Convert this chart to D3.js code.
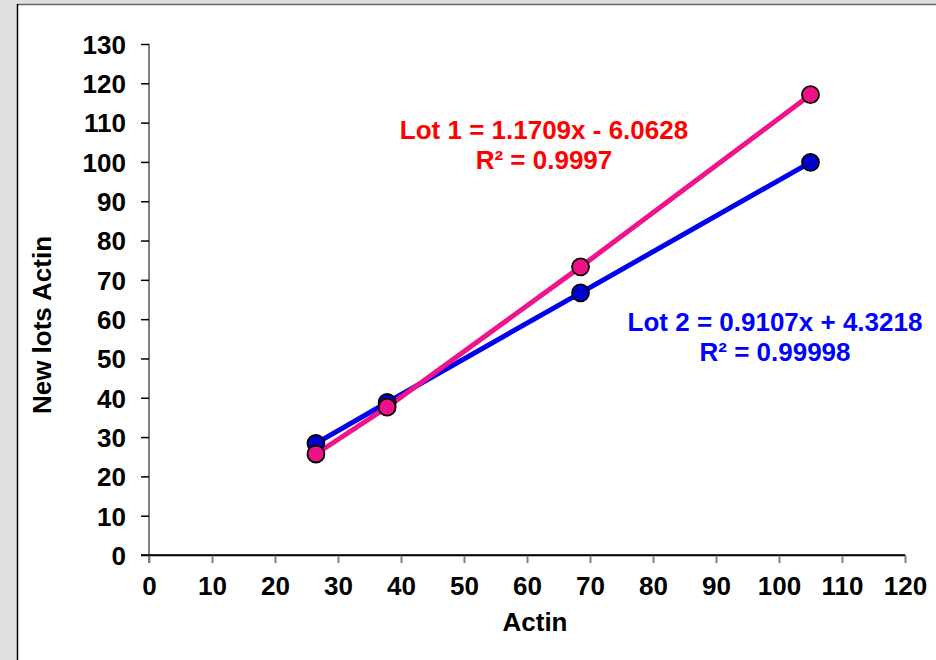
<!DOCTYPE html>
<html>
<head>
<meta charset="utf-8">
<script src="https://cdn.jsdelivr.net/npm/d3@7"></script>
<style>
  body { margin: 0; background: #e0e0e0; }
  svg text { font-family: "Liberation Sans", Arial, sans-serif; font-weight: bold; }
</style>
</head>
<body>
<div id="chart"></div>
<script>
// data
var actin = [26.5, 37.8, 68.5, 105];
var lot1 = [25.7, 37.6, 73.3, 117.1];
var lot2 = [28.4, 38.8, 66.7, 99.9];
var xTicks = [0, 10, 20, 30, 40, 50, 60, 70, 80, 90, 100, 110, 120];
var yTicks = [0, 10, 20, 30, 40, 50, 60, 70, 80, 90, 100, 110, 120, 130];
var lot1Label = ["Lot 1 = 1.1709x - 6.0628", "R² = 0.9997"];
var lot2Label = ["Lot 2 = 0.9107x + 4.3218", "R² = 0.99998"];

var svgWidth = 936;
var svgHeight = 660;
var fontSize = 26;

var svg = d3.select("#chart")
  .append("svg")
  .attr("width", svgWidth)
  .attr("height", svgHeight)
  .style("display", "block");

// gray page with white chart area
svg.append("rect")
  .attr("width", svgWidth).attr("height", svgHeight)
  .attr("fill", "#e0e0e0");
svg.append("rect")
  .attr("x", 17).attr("y", 4)
  .attr("width", svgWidth).attr("height", svgHeight)
  .attr("fill", "#ffffff");
svg.append("line")
  .attr("x1", 17).attr("x2", svgWidth).attr("y1", 4.5).attr("y2", 4.5)
  .attr("stroke", "#666").attr("stroke-width", 1.5);
svg.append("line")
  .attr("x1", 17.5).attr("x2", 17.5).attr("y1", 4).attr("y2", svgHeight)
  .attr("stroke", "#000").attr("stroke-width", 1.5);

var x = d3.scaleLinear().domain([0, 120]).range([149, 905]);
var y = d3.scaleLinear().domain([0, 130]).range([555, 44]);

// x axis
var xAxis = svg.append("g")
  .attr("transform", "translate(0,555)")
  .call(d3.axisBottom(x).tickValues(xTicks).tickSize(8).tickPadding(14).tickSizeOuter(0));
xAxis.select(".domain").attr("stroke", "#000").attr("stroke-width", 1.5);
xAxis.selectAll(".tick line").attr("stroke", "#808080").attr("stroke-width", 2);
xAxis.selectAll(".tick text").attr("font-size", fontSize).attr("fill", "#000");

// y axis
var yAxis = svg.append("g")
  .attr("transform", "translate(149,0)")
  .call(d3.axisLeft(y).tickValues(yTicks).tickSize(8).tickPadding(15).tickSizeOuter(0));
yAxis.select(".domain").attr("stroke", "#808080").attr("stroke-width", 2)
  .attr("d", "M0," + y(130) + "V563");
yAxis.selectAll(".tick line").attr("stroke", "#000").attr("stroke-width", 1.5);
yAxis.selectAll(".tick text").attr("font-size", fontSize).attr("fill", "#000").attr("dy", "0.36em");
// redraw x domain over y ticks
svg.append("line")
  .attr("x1", 141).attr("x2", 905).attr("y1", 555).attr("y2", 555)
  .attr("stroke", "#000").attr("stroke-width", 1.5);

// axis titles
svg.append("text")
  .attr("x", 535).attr("y", 631)
  .attr("text-anchor", "middle")
  .attr("font-size", fontSize)
  .text("Actin");
svg.append("text")
  .attr("transform", "translate(51,325) rotate(-90)")
  .attr("text-anchor", "middle")
  .attr("font-size", fontSize)
  .text("New lots Actin");

// series
var series = [
  { values: lot2, line: "#0000ee", fill: "#0000cc" },
  { values: lot1, line: "#f0148c", fill: "#ee1188" }
];
var lineGen = d3.line()
  .x(function(d, i) { return x(actin[i]); })
  .y(function(d) { return y(d); });

series.forEach(function(s) {
  svg.append("path")
    .datum(s.values)
    .attr("d", lineGen)
    .attr("fill", "none")
    .attr("stroke", s.line)
    .attr("stroke-width", 5);
});
series.forEach(function(s) {
  svg.selectAll(null)
    .data(s.values)
    .enter()
    .append("circle")
    .attr("cx", function(d, i) { return x(actin[i]); })
    .attr("cy", function(d) { return y(d); })
    .attr("r", 8.5)
    .attr("fill", s.fill)
    .attr("stroke", "#000")
    .attr("stroke-width", 1.8);
});

// trendline labels
function addLabel(lines, cx, baseY, color) {
  svg.selectAll(null)
    .data(lines)
    .enter()
    .append("text")
    .attr("x", cx)
    .attr("y", function(d, i) { return baseY + i * 30; })
    .attr("text-anchor", "middle")
    .attr("font-size", fontSize)
    .attr("fill", color)
    .text(function(d) { return d; });
}
addLabel(lot1Label, 544, 139, "#ff0000");
addLabel(lot2Label, 775, 331, "#0000ff");
</script>
</body>
</html>
